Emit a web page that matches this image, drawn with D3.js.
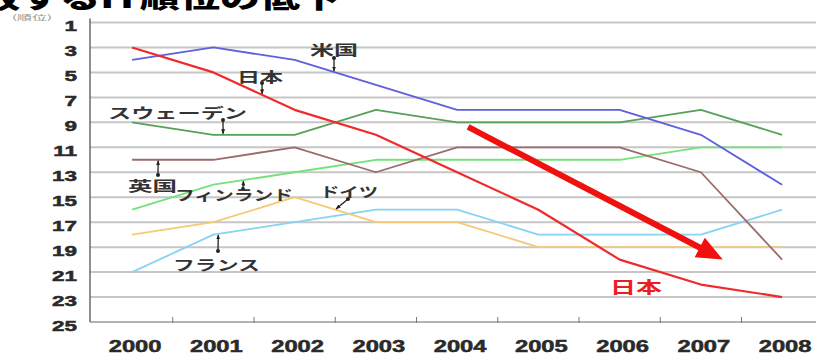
<!DOCTYPE html>
<html>
<head>
<meta charset="utf-8">
<script src="https://cdn.jsdelivr.net/npm/d3@7"></script>
<style>
  body { margin: 0; background: #fff; }
  svg { display: block; }
</style>
</head>
<body>
<svg id="chart" width="816" height="359"></svg>
<script>
// ---- data: rank of each country per year (1 = best) ----
const years = ["2000", "2001", "2002", "2003", "2004", "2005", "2006", "2007", "2008"];
const rankTicks = [1, 3, 5, 7, 9, 11, 13, 15, 17, 19, 21, 23, 25];

const japan   = [3, 5, 8, 10, 13, 16, 20, 22, 23];
const usa     = [4, 3, 4, 6, 8, 8, 8, 10, 14];
const sweden  = [9, 10, 10, 8, 9, 9, 9, 8, 10];
const uk      = [12, 12, 11, 13, 11, 11, 11, 13, 20];
const finland = [16, 14, 13, 12, 12, 12, 12, 11, 11];
const germany = [18, 17, 15, 17, 17, 19, 19, 19, 19];
const france  = [21, 18, 17, 16, 16, 18, 18, 18, 16];

const titleText = "主要国と比較するIT順位の低下";
const yAxisTitle = "(順位)";

// trend arrow for Japan, given as [year index, rank]
const trendFrom = [4.135, 9.37];
const trendTo   = [7.27, 20.0];

// ---- drawing ----
const svg = d3.select("#chart");
const W = 816;

const x = d3.scaleBand().domain(years).range([91.5, 91.5 + 81.25 * years.length]).padding(0);
const xAt = i => x(years[0]) + x.bandwidth() * (i + 0.5);
const y = d3.scaleLinear().domain([1, 25]).range([22.5, 322]);

const series = [
  { name: "フランス",     values: france,  color: "#86d3f2", width: 1.8 },
  { name: "ドイツ",       values: germany, color: "#f6c978", width: 1.8 },
  { name: "フィンランド", values: finland, color: "#74e27a", width: 1.8 },
  { name: "英国",         values: uk,      color: "#9c6b6b", width: 1.8 },
  { name: "スウェーデン", values: sweden,  color: "#57a05a", width: 1.8 },
  { name: "米国",         values: usa,     color: "#5f5fdc", width: 1.8 },
  { name: "日本",         values: japan,   color: "#f02a2a", width: 2.2 }
];

// title (runs off the top edge)
svg.append("text")
  .attr("x", -220).attr("y", -4)
  .attr("textLength", 560).attr("lengthAdjust", "spacingAndGlyphs")
  .attr("dominant-baseline", "central")
  .style("font-family", "'Noto Sans CJK JP', sans-serif")
  .style("font-weight", 900).style("font-size", "26px")
  .attr("fill", "#000")
  .text(titleText);

// y axis title
svg.append("text")
  .attr("x", 12).attr("y", 17)
  .attr("textLength", 40).attr("lengthAdjust", "spacingAndGlyphs")
  .attr("dominant-baseline", "central")
  .style("font-family", "'Noto Sans CJK JP', sans-serif")
  .style("font-size", "7px")
  .attr("fill", "#999")
  .text(yAxisTitle);

// horizontal gridlines
svg.append("g").selectAll("line")
  .data(rankTicks.filter(r => r !== 25))
  .join("line")
  .attr("x1", 90).attr("x2", W)
  .attr("y1", d => y(d)).attr("y2", d => y(d))
  .attr("stroke", "#c6c6c6").attr("stroke-width", 2);

// bottom axis line and category boundary ticks
svg.append("line")
  .attr("x1", 90).attr("x2", W).attr("y1", y(25)).attr("y2", y(25))
  .attr("stroke", "#9a9a9a").attr("stroke-width", 1.5);
svg.append("g").selectAll("line")
  .data(years.slice(1))
  .join("line")
  .attr("x1", d => x(d)).attr("x2", d => x(d))
  .attr("y1", y(25) - 5).attr("y2", y(25) + 1)
  .attr("stroke", "#777").attr("stroke-width", 1);

// left axis line
svg.append("line")
  .attr("x1", 90).attr("x2", 90).attr("y1", y(1) - 4).attr("y2", y(25))
  .attr("stroke", "#555").attr("stroke-width", 1.3);

// y tick labels
const yAxis = svg.append("g").attr("transform", "translate(90,0)")
  .call(d3.axisLeft(y).tickValues(rankTicks).tickSize(0).tickFormat(d3.format("d")));
yAxis.select(".domain").remove();
yAxis.selectAll("text")
  .attr("x", 0).attr("dy", null)
  .attr("dominant-baseline", "central")
  .attr("text-anchor", "end")
  .attr("transform", "translate(-13,3) scale(1.5,1)")
  .style("font-family", "'Liberation Sans', Arial, sans-serif")
  .style("font-weight", "bold").style("font-size", "15px")
  .attr("fill", "#2a2a2a").attr("stroke", "#2a2a2a").attr("stroke-width", 0.5);

// x tick labels
const xAxis = svg.append("g").attr("transform", `translate(0,${y(25)})`)
  .call(d3.axisBottom(x).tickSize(0));
xAxis.select(".domain").remove();
xAxis.selectAll("text")
  .attr("y", 0).attr("dy", null)
  .attr("dominant-baseline", "central")
  .attr("transform", "translate(3,24) scale(1.4,1)")
  .style("font-family", "'Liberation Sans', Arial, sans-serif")
  .style("font-weight", "bold").style("font-size", "17px")
  .attr("fill", "#2a2a2a").attr("stroke", "#2a2a2a").attr("stroke-width", 0.5);

// series lines
const line = d3.line().x((d, i) => xAt(i)).y(d => y(d));
svg.append("g").selectAll("path")
  .data(series)
  .join("path")
  .attr("d", d => line(d.values))
  .attr("fill", "none")
  .attr("stroke", d => d.color)
  .attr("stroke-width", d => d.width)
  .attr("stroke-linejoin", "round");

// markers for the label pointers
const defs = svg.append("defs");
defs.append("marker").attr("id", "tip")
  .attr("viewBox", "0 0 10 10").attr("refX", 9).attr("refY", 5)
  .attr("markerWidth", 5).attr("markerHeight", 5).attr("orient", "auto")
  .attr("markerUnits", "userSpaceOnUse")
  .append("path").attr("d", "M0,1 L10,5 L0,9 Z").attr("fill", "#222");
defs.append("marker").attr("id", "dot")
  .attr("viewBox", "0 0 10 10").attr("refX", 5).attr("refY", 5)
  .attr("markerWidth", 4).attr("markerHeight", 4)
  .attr("markerUnits", "userSpaceOnUse")
  .append("circle").attr("cx", 5).attr("cy", 5).attr("r", 5).attr("fill", "#222");

// value of a series at a fractional year index
function rankAt(values, t) {
  const i = Math.min(Math.floor(t), values.length - 2);
  const f = t - i;
  return values[i] + (values[i + 1] - values[i]) * f;
}

// series labels with small pointers
const labels = [
  { text: "米国",         values: usa,     at: 2.485, tail: [334, 58],  x0: 310, x1: 358, cy: 49 },
  { text: "日本",         values: japan,   at: 1.6,   tail: [262, 83],  x0: 237, x1: 283, cy: 76 },
  { text: "スウェーデン", values: sweden,  at: 1.12,  tail: [223, 120], x0: 108, x1: 247, cy: 111.5 },
  { text: "英国",         values: uk,      at: 0.32,  tail: [158, 175], x0: 128, x1: 177, cy: 185 },
  { text: "フィンランド", values: finland, at: 1.37,  tail: [243, 189], x0: 175, x1: 293, cy: 193.5 },
  { text: "ドイツ",       values: germany, at: 2.51,  tail: [348, 199], x0: 320, x1: 378, cy: 191 },
  { text: "フランス",     values: france,  at: 1.06,  tail: [218, 251], x0: 173, x1: 260, cy: 263.5 }
];

const lg = svg.append("g");
labels.forEach(l => {
  const tx = xAt(l.at), ty = y(rankAt(l.values, l.at));
  const dy = ty > l.tail[1] ? -1 : 1;
  lg.append("line")
    .attr("x1", l.tail[0]).attr("y1", l.tail[1])
    .attr("x2", tx).attr("y2", ty + dy)
    .attr("stroke", "#222").attr("stroke-width", 1.3)
    .attr("marker-start", "url(#dot)").attr("marker-end", "url(#tip)");
  lg.append("text")
    .attr("x", l.x0).attr("y", l.cy)
    .attr("textLength", l.x1 - l.x0).attr("lengthAdjust", "spacingAndGlyphs")
    .attr("dominant-baseline", "central")
    .style("font-family", "'Noto Sans CJK JP', sans-serif")
    .style("font-weight", "bold").style("font-size", "14px")
    .attr("fill", "#333")
    .text(l.text);
});

// red label for Japan near the end of its line
svg.append("text")
  .attr("x", 610).attr("y", 285.5)
  .attr("textLength", 52).attr("lengthAdjust", "spacingAndGlyphs")
  .attr("dominant-baseline", "central")
  .style("font-family", "'Noto Sans CJK JP', sans-serif")
  .style("font-weight", "bold").style("font-size", "16px")
  .attr("fill", "#ec1c24")
  .text("日本");

// trend arrow
const p0 = [xAt(trendFrom[0]), y(trendFrom[1])];
const p1 = [xAt(trendTo[0]), y(trendTo[1])];
const ang = Math.atan2(p1[1] - p0[1], p1[0] - p0[0]);
const headLen = 26, headHalf = 11;
const base = [p1[0] - headLen * Math.cos(ang), p1[1] - headLen * Math.sin(ang)];
const nx = -Math.sin(ang), ny = Math.cos(ang);
svg.append("line")
  .attr("x1", p0[0]).attr("y1", p0[1])
  .attr("x2", base[0] + 2 * Math.cos(ang)).attr("y2", base[1] + 2 * Math.sin(ang))
  .attr("stroke", "#f01010").attr("stroke-width", 6);
svg.append("path")
  .attr("d", `M${p1[0]},${p1[1]} L${base[0] + nx * headHalf},${base[1] + ny * headHalf} L${base[0] - nx * headHalf},${base[1] - ny * headHalf} Z`)
  .attr("fill", "#f01010");
</script>
</body>
</html>
